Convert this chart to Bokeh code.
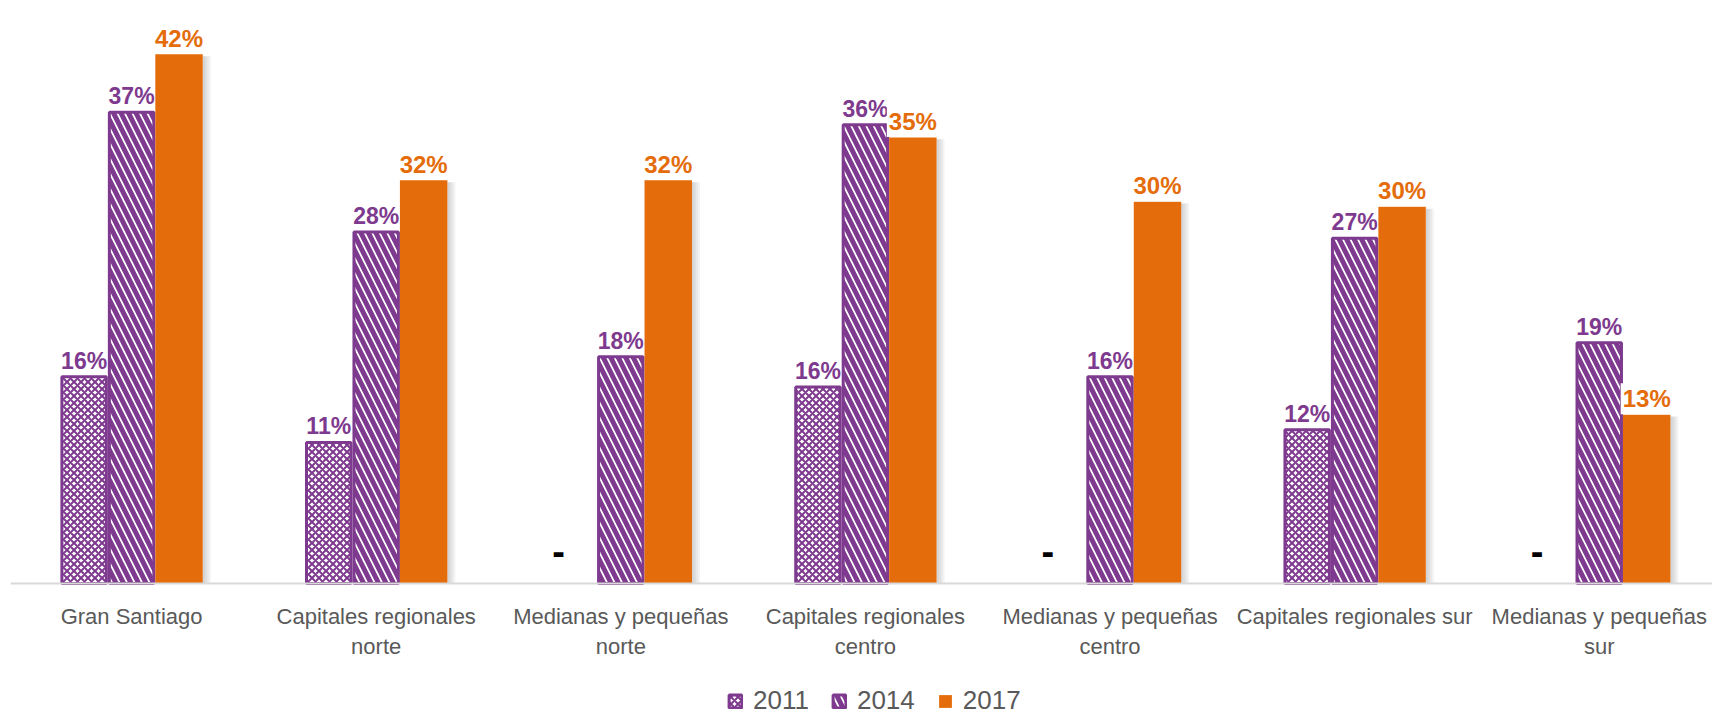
from bokeh.plotting import figure
from bokeh.models import Range1d, Legend, LegendItem, ColumnDataSource, Span
from bokeh.core.properties import value
from bokeh.embed import file_html
from bokeh.resources import INLINE

categories = ["Gran Santiago", "Capitales regionales\nnorte", "Medianas y pequeñas\nnorte",
              "Capitales regionales\ncentro", "Medianas y pequeñas\ncentro",
              "Capitales regionales sur", "Medianas y pequeñas\nsur"]
series = ["2011", "2014", "2017"]
v2011 = [16.4, 11.2, None, 15.6, None, 12.2, None]
v2014 = [37.4, 27.9, 18.0, 36.4, 16.4, 27.4, 19.1]
v2017 = [42.0, 32.0, 32.0, 35.4, 30.3, 29.9, 13.4]

PURPLE = "#7E3A8E"
ORANGE = "#E46C0A"
GREY = "#595959"
FONT = "Liberation Sans"

BW = 0.194
PX = 1 / 244.6

p = figure(width=1712, height=717, output_backend="svg", toolbar_location=None,
           x_range=Range1d(-0.495, 6.463), y_range=Range1d(-10.635, 46.27),
           x_axis_location=None, y_axis_location=None, min_border_left=10, min_border_right=0,
           min_border_top=0, min_border_bottom=0)
p.outline_line_color = None
p.xgrid.visible = False
p.ygrid.visible = False

xs = list(range(len(categories)))

# category axis line and labels
p.add_layout(Span(location=0, dimension="width", line_color="#D9D9D9", line_width=2))
p.text(x=xs, y=[0] * len(xs), text=categories, text_color=GREY,
       text_font=value(FONT), text_font_size="22px", text_align="center",
       text_baseline="top", y_offset=21, text_line_height=1.2)

# 2011
x11 = [i - BW for i, v in zip(xs, v2011) if v is not None]
y11 = [v for v in v2011 if v is not None]
s11 = ColumnDataSource(dict(x=x11, top=y11, lab=[f"{v:.0f}%" for v in y11]))
r11 = p.vbar(x="x", top="top", width=BW - 3 * PX, source=s11, fill_color="white",
             line_color=PURPLE, line_width=3, hatch_pattern="diagonal_cross",
             hatch_color=PURPLE, hatch_scale=7, hatch_weight=2)

# 2014
s14 = ColumnDataSource(dict(x=xs, top=v2014, lab=[f"{v:.0f}%" for v in v2014]))
r14 = p.vbar(x="x", top="top", width=BW - 3 * PX, source=s14, fill_color="white",
             line_color=PURPLE, line_width=3, hatch_pattern="left_diagonal_line",
             hatch_color=PURPLE, hatch_scale=15, hatch_weight=5)

# labels for 2011/2014 (drawn before 2017 bars)
for src in (s11, s14):
    p.text(x="x", y="top", text="lab", source=src, text_color=PURPLE,
           text_font=value(FONT), text_font_style="bold", text_font_size="23px",
           text_align="center", text_baseline="alphabetic", y_offset=-16)

# missing 2011 markers
xm = [i - BW - 0.06 for i, v in zip(xs, v2011) if v is None]
sm = ColumnDataSource(dict(x=xm, y=[2.5] * len(xm), lab=["-"] * len(xm)))
p.text(x="x", y="y", text="lab", source=sm, text_color="black",
       text_font=value(FONT), text_font_style="bold", text_font_size="38px",
       text_align="center", text_baseline="middle")

# shadow of 2017 bars
for k in range(1, 5):
    p.quad(left=[i + BW * 1.5 for i in xs], right=[i + BW * 1.5 + 2 * k * PX for i in xs],
           top=[v - 0.15 for v in v2017], bottom=[0] * len(xs),
           fill_color="#7f7f7f", fill_alpha=0.09, line_color=None)

# 2017
s17 = ColumnDataSource(dict(x=[i + BW for i in xs], top=v2017,
                            lab=[f"{v:.0f}%" for v in v2017]))
r17 = p.vbar(x="x", top="top", width=BW, source=s17, fill_color=ORANGE, line_color=None)
p.text(x="x", y="top", text="lab", source=s17, text_color=ORANGE,
       text_font=value(FONT), text_font_style="bold", text_font_size="24px",
       text_align="center", text_baseline="alphabetic", y_offset=-16,
       background_fill_color="white", padding=2)

legend = Legend(items=[LegendItem(label=series[0], renderers=[r11]),
                       LegendItem(label=series[1], renderers=[r14]),
                       LegendItem(label=series[2], renderers=[r17])],
                orientation="horizontal", location=(717, 1),
                label_text_font=FONT, label_text_font_size="26px",
                label_text_color=GREY, glyph_width=16, glyph_height=16,
                label_standoff=10, spacing=22, padding=0, margin=0,
                border_line_color=None, background_fill_alpha=0)
p.add_layout(legend, "center")

open("out.html", "w").write(file_html(p, INLINE))
